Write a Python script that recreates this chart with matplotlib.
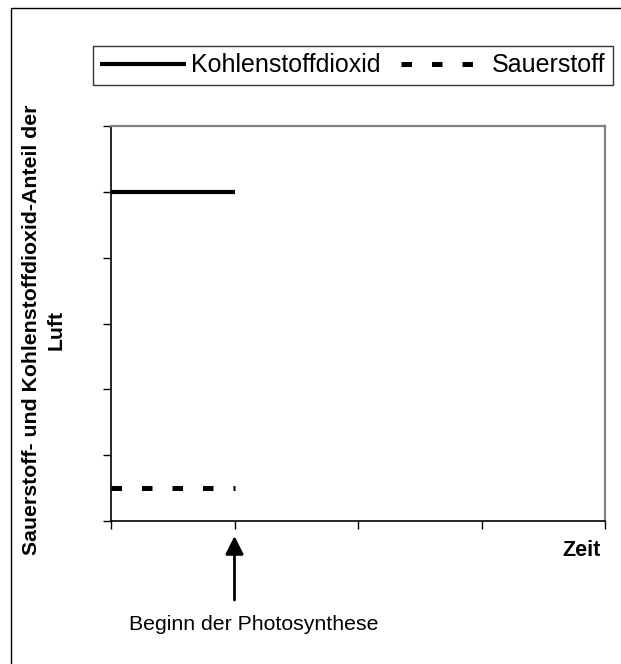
import matplotlib
matplotlib.use('Agg')
from matplotlib import pyplot as plt
from matplotlib.patches import Rectangle

plt.rcParams['font.family'] = ['Liberation Sans', 'DejaVu Sans']

zeit = [0, 1]
kohlenstoffdioxid = [5, 5]
sauerstoff = [0.5, 0.5]
x_ticks = [0, 1, 2, 3, 4]
y_ticks = [0, 1, 2, 3, 4, 5, 6]

W, H = 621, 664
fig = plt.figure(figsize=(W / 100, H / 100), dpi=100)
ax = fig.add_axes([111 / W, 1 - 521 / H, (605 - 111) / W, (521 - 126) / H])

ax.plot(zeit, kohlenstoffdioxid, color='black', lw=3, solid_capstyle='butt',
        label='Kohlenstoffdioxid')
ax.plot(zeit, sauerstoff, color='black', lw=3.6, dashes=(2.1, 4.0),
        dash_capstyle='butt', label='Sauerstoff')

ax.set_xlim(0, 4)
ax.set_ylim(0, 6)
ax.set_xticks(x_ticks)
ax.set_yticks(y_ticks)
ax.set_xticklabels([])
ax.set_yticklabels([])
ax.tick_params(direction='out', length=6, width=1, color='black')

for side in ['top', 'right']:
    ax.spines[side].set_color('#808080')
    ax.spines[side].set_linewidth(1.6)
for side in ['left', 'bottom']:
    ax.spines[side].set_color('black')
    ax.spines[side].set_linewidth(1.2)

# axis titles
fig.text(43.5 / W, 1 - 330 / H,
         'Sauerstoff- und Kohlenstoffdioxid-Anteil der\nLuft',
         rotation=90, ha='center', va='center', fontsize=15.3,
         fontweight='bold', linespacing=1.38)
ax.text(0.953, (521 - 551) / 395, 'Zeit', transform=ax.transAxes,
        ha='center', va='center', fontsize=15.5, fontweight='bold')

# arrow and note
ax.annotate('', xy=(1, (521 - 536) / 395), xytext=(1, (521 - 600) / 395),
            xycoords=ax.get_xaxis_transform(),
            textcoords=ax.get_xaxis_transform(),
            arrowprops=dict(arrowstyle='-|>,head_length=1.1,head_width=0.55',
                            color='black', lw=2, mutation_scale=10,
                            shrinkA=0, shrinkB=0),
            annotation_clip=False)
fig.text(254 / W, 1 - 624 / H, 'Beginn der Photosynthese',
         ha='center', va='center', fontsize=15.3)

leg = fig.legend(loc='center', bbox_to_anchor=(353 / W, 1 - 65.5 / H),
                 ncol=2, fontsize=18, frameon=True, fancybox=False,
                 edgecolor='black', handlelength=3.45, handletextpad=0.2,
                 columnspacing=0.8, borderpad=0.3, borderaxespad=0)
leg.get_frame().set_linewidth(1)

# outer frame
fig.add_artist(Rectangle((11 / W, -0.1), 2, 1.1 - 8 / H,
                         transform=fig.transFigure, fill=False,
                         edgecolor='black', lw=1, clip_on=False))

plt.savefig('out.png', dpi=100)
